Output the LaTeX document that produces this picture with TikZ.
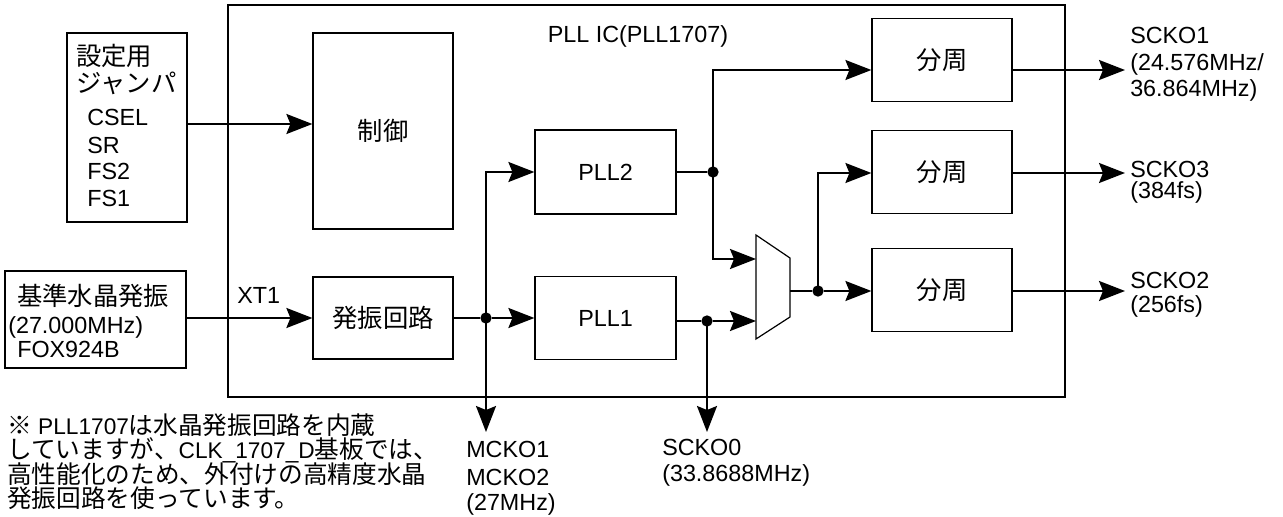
\documentclass[tikz,border=0pt]{standalone}
\usepackage{fontspec}
\setmainfont{Liberation Sans}
\newfontfamily\jpfont{Noto Sans CJK JP}
\newcommand\JP[1]{{\jpfont\fontsize{19pt}{24pt}\selectfont #1}}
\newcommand\JPn[1]{{\jpfont\fontsize{18.5pt}{24pt}\selectfont #1}}
\usetikzlibrary{arrows.meta}
\begin{document}
\begin{tikzpicture}[x=0.75pt,y=-0.75pt,
  box/.style={draw, line width=0.9pt, inner sep=0pt, font=\fontsize{17.5pt}{20pt}\selectfont},
  conn/.style={line width=1.5pt},
  arr/.style={conn, -{Stealth[length=19.5pt,width=15pt,inset=3pt]}},
  lbl/.style={anchor=base west, inner sep=0pt, font=\fontsize{17.5pt}{20pt}\selectfont},
  note/.style={lbl, font=\fontsize{17pt}{20pt}\selectfont, text height=12.5pt, text depth=3pt},
  dot/.style={circle, fill, inner sep=0pt, minimum size=8.5pt},
]
\fill[white] (0,0) rectangle (1283,517);
\useasboundingbox (0,0) rectangle (1283,517);

% boxes
\node[box, line width=1.1pt, minimum width=627.75pt, minimum height=294pt] (ic) at (646.5,201) {};
\node[box, minimum width=90pt, minimum height=141.75pt] (set) at (127,127.5) {};
\node[box, minimum width=105pt, minimum height=147pt] (ctrl) at (383,131) {\JP{制御}};
\node[box, minimum width=135.75pt, minimum height=72.75pt] (xtal) at (95.5,319.5) {};
\node[box, minimum width=105pt, minimum height=61.5pt] (osc) at (383,318) {\JP{発振回路}};
\node[box, minimum width=105.75pt, minimum height=63pt] (pll2) at (605.5,172) {PLL2};
\node[box, minimum width=105.75pt, minimum height=62.25pt] (pll1) at (605.5,318) {PLL1};
\node[box, minimum width=105pt, minimum height=62.25pt] (div1) at (942,60) {\JP{分周}};
\node[box, minimum width=105pt, minimum height=62.25pt] (div2) at (942,172) {\JP{分周}};
\node[box, minimum width=105pt, minimum height=62.25pt] (div3) at (942,290) {\JP{分周}};

% multiplexer
\draw[line width=0.9pt] (756,235) -- (790,258) -- (790,317) -- (756,339) -- cycle;
\coordinate (muxA) at (756,259);
\coordinate (muxB) at (756,321);
\coordinate (muxO) at (790,291);

% junction dots
\node[dot] (d1) at (486,318) {};
\node[dot] (d0) at (707,321) {};
\node[dot] (d2) at (713,172) {};
\node[dot] (d3) at (818,291) {};

% free ends and rows
\coordinate (o1) at (1125,70);
\coordinate (o3) at (1125,173);
\coordinate (o2) at (1125,291);
\coordinate (mck) at (486,432);
\coordinate (sck0) at (707,432);
\coordinate (rc) at (0,124);
\coordinate (r70) at (0,70);
\coordinate (r173) at (0,173);

% connectors
\draw[arr] (set.east |- rc) -- (ctrl.west |- rc);
\draw[arr] (xtal.east |- osc.west) -- (osc.west);
\draw[conn] (osc.east) -- (d1);
\draw[arr] (d1) -- (pll1.west);
\draw[arr] (d1.center) |- (pll2.west);
\draw[arr] (d1.center) -- (mck);
\draw[conn] (pll1.east |- d0) -- (d0);
\draw[arr] (d0) -- (muxB);
\draw[arr] (d0.center) -- (sck0);
\draw[conn] (pll2.east) -- (d2);
\draw[arr] (d2.center) |- (div1.west |- r70);
\draw[arr] (d2.center) |- (muxA);
\draw[conn] (muxO) -- (d3);
\draw[arr] (d3) -- (div3.west |- d3);
\draw[arr] (d3.center) |- (div2.west |- r173);
\draw[arr] (div1.east |- r70) -- (o1);
\draw[arr] (div2.east |- r173) -- (o3);
\draw[arr] (div3.east |- d3) -- (o2);

% labels
\node[lbl] (t1) at (76,66) {\JP{設定用}};
\node[lbl] (t2) at (76,93) {\JP{ジャンパ}};
\node[lbl] (t3) at (87,126) {CSEL};
\node[lbl] (t4) at (87,153) {SR};
\node[lbl] (t5) at (87,180) {FS2};
\node[lbl] (t6) at (87,206) {FS1};
\node[lbl] (x1) at (17,305) {\JP{基準水晶発振}};
\node[lbl] (x2) at (8,333) {(27.000MHz)};
\node[lbl] (x3) at (17,357) {FOX924B};
\node[lbl] (xt) at (237,303) {XT1};
\node[anchor=base, inner sep=0pt, font=\fontsize{17.5pt}{20pt}\selectfont] (ict) at (638,43) {PLL IC(PLL1707)};
\node[lbl] (s1a) at (1130,44) {SCKO1};
\node[lbl] (s1b) at (1130,71) {(24.576MHz/};
\node[lbl] (s1c) at (1130,97) {36.864MHz)};
\node[lbl] (s3a) at (1130,177) {SCKO3};
\node[lbl] (s3b) at (1130,199) {(384fs)};
\node[lbl] (s2a) at (1130,288) {SCKO2};
\node[lbl] (s2b) at (1130,312) {(256fs)};
\node[lbl] (m1) at (466,457) {MCKO1};
\node[lbl] (m2) at (466,485) {MCKO2};
\node[lbl] (m3) at (466,510) {(27MHz)};
\node[lbl] (s0a) at (662,455) {SCKO0};
\node[lbl] (s0b) at (662,481) {(33.8688MHz)};
\node[note] (n1) at (7,434) {\JPn{※} PLL1707\JPn{は水晶発振回路を内蔵}};
\node[note] (n2) at (7,458.5) {\JPn{していますが、}CLK\_1707\_D\JPn{基板では、}};
\node[note] (n3) at (7,483) {\JPn{高性能化のため、外付けの高精度水晶}};
\node[note] (n4) at (7,507.5) {\JPn{発振回路を使っています。}};
\end{tikzpicture}
\end{document}
